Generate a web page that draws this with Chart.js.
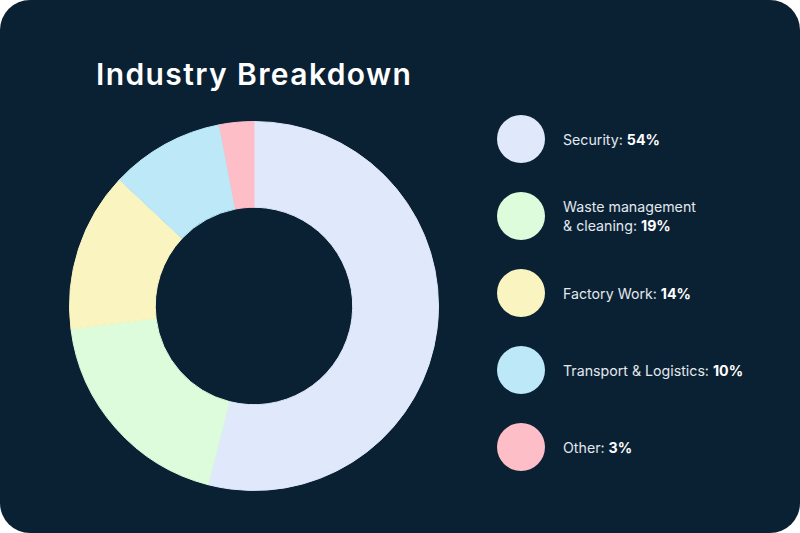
<!DOCTYPE html>
<html>
<head>
<meta charset="utf-8">
<script src="https://cdn.jsdelivr.net/npm/chart.js@4"></script>
<style>
    body { margin: 0; background: #ffffff; }
    #card {
        position: relative;
        width: 800px;
        height: 533px;
        background: #0a2134;
        border-radius: 30px;
        overflow: hidden;
        font-family: Inter, "Noto Sans", sans-serif;
    }
    #title {
        position: absolute;
        left: 96px;
        top: 56px;
        margin: 0;
        font-size: 30px;
        font-weight: 600;
        color: #ffffff;
        letter-spacing: 1.4px;
    }
    #chartBox {
        position: absolute;
        left: 69px;
        top: 121px;
        width: 370px;
        height: 370px;
    }
    .item {
        position: absolute;
        left: 497px;
        height: 48px;
        display: flex;
        align-items: center;
    }
    .dot {
        width: 48px;
        height: 48px;
        border-radius: 50%;
        flex: none;
    }
    .txt {
        margin-left: 18px;
        font-size: 14.2px;
        line-height: 19px;
        color: #e3e8ee;
    }
    .txt b { color: #ffffff; font-weight: 700; }
</style>
</head>
<body>
<div id="card">
    <h1 id="title">Industry Breakdown</h1>
    <div id="chartBox"><canvas id="donut"></canvas></div>
    <div id="legend"></div>
</div>
<script>
// data
let labels = [
    "Security",
    "Waste management<br>& cleaning",
    "Factory Work",
    "Transport & Logistics",
    "Other"
];

let values = [54, 19, 14, 10, 3];

let colors = ["#e0e8fb", "#dcfcdc", "#faf5c0", "#bce8f8", "#fdbec8"];

// legend
let legend = document.getElementById("legend");

values.forEach((val, i) => {
    let item = `<div class="item" style="top:${115 + i * 77}px">
        <div class="dot" style="background:${colors[i]}"></div>
        <div class="txt">${labels[i].replace("& ", "&amp; ")}: <b>${val}%</b></div>
    </div>`;
    legend.innerHTML += item;
});

// chart
let ctx = document.getElementById("donut").getContext("2d");

new Chart(ctx, {
    type: "doughnut",
    data: {
        labels: labels.map(l => l.replace("<br>", " ")),
        datasets: [{
            data: values,
            backgroundColor: colors,
            borderColor: colors,
            borderWidth: 1
        }]
    },
    options: {
        responsive: true,
        maintainAspectRatio: false,
        animation: false,
        cutout: "53.5%",
        layout: { padding: 0 },
        plugins: {
            legend: { display: false },
            tooltip: { enabled: false }
        }
    }
});
</script>
</body>
</html>
